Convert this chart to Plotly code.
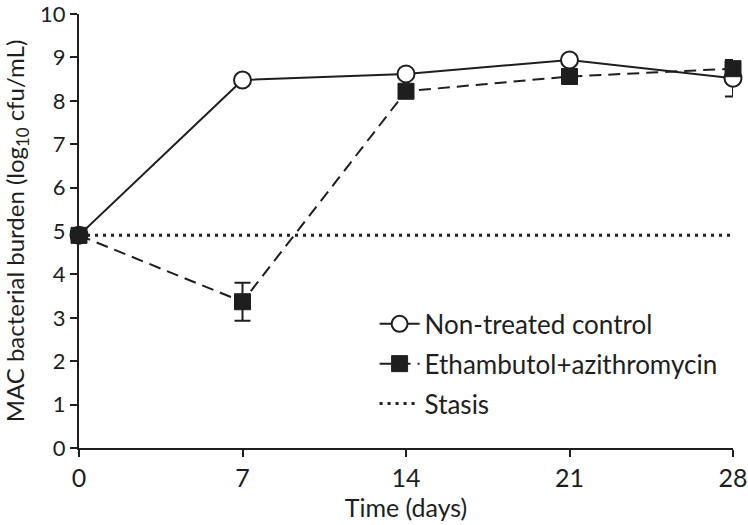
import plotly.graph_objects as go

days = [0, 7, 14, 21, 28]
control = [4.9, 8.48, 8.62, 8.94, 8.52]
control_err = [0, 0, 0, 0, 0.42]
treated = [4.9, 3.37, 8.22, 8.56, 8.74]
treated_err = [0, 0.44, 0, 0, 0]
stasis_days = [0, 28]
stasis = [4.9, 4.9]
y_ticks = [0, 1, 2, 3, 4, 5, 6, 7, 8, 9, 10]

ink = "#1e1e1e"
fam = "Lato, Open Sans, sans-serif"
fig = go.Figure()

fig.add_trace(go.Scatter(
    x=stasis_days, y=stasis, mode="lines", name="Stasis",
    line=dict(color=ink, width=3, dash="3px,5px"), legendrank=3, legendgroup="c"))

fig.add_trace(go.Scatter(
    x=days, y=control, mode="lines+markers", name="Non-treated control",
    line=dict(color=ink, width=2),
    marker=dict(symbol="circle", size=17, color="white", line=dict(color=ink, width=2)),
    error_y=dict(type="data", array=control_err, color=ink, thickness=2, width=8),
    legendrank=1, legendgroup="a"))

fig.add_trace(go.Scatter(
    x=days, y=treated, mode="lines+markers", name="Ethambutol+azithromycin",
    line=dict(color=ink, width=2, dash="12px,7px"),
    marker=dict(symbol="square", size=16, color=ink, line=dict(color=ink, width=1)),
    error_y=dict(type="data", array=treated_err, color=ink, thickness=2, width=8),
    legendrank=2, legendgroup="b"))

axis_common = dict(
    showline=True, linecolor=ink, linewidth=2, ticks="outside", ticklen=7,
    tickwidth=2, tickcolor=ink, showgrid=False, zeroline=False,
    ticklabeloverflow="allow", automargin=False,
)

fig.update_layout(
    width=748, height=525,
    margin=dict(l=79, r=15, t=14, b=77),
    plot_bgcolor="white", paper_bgcolor="white",
    font=dict(family=fam, color=ink, size=24),
    xaxis=dict(range=[0, 28], tickvals=days,
               tickfont=dict(size=25, color=ink, family=fam),
               title=dict(text="Time (days)", font=dict(size=25), standoff=4),
               **axis_common),
    yaxis=dict(range=[0, 10], tickvals=y_ticks,
               tickfont=dict(size=22, color=ink, family=fam),
               title=dict(text="MAC bacterial burden (log<sub>10</sub> cfu/mL)",
                          font=dict(size=24), standoff=12), **axis_common),
    legend=dict(x=0.452, y=0.34, xanchor="left", yanchor="top", bgcolor="rgba(0,0,0,0)",
                font=dict(size=26, color=ink), itemwidth=40, tracegroupgap=3,
                traceorder="grouped"),
    showlegend=True,
)
fig.update_traces(cliponaxis=False)

fig.write_html("out.html", config={"displayModeBar": False},
               post_script="document.body.style.margin='0';")
